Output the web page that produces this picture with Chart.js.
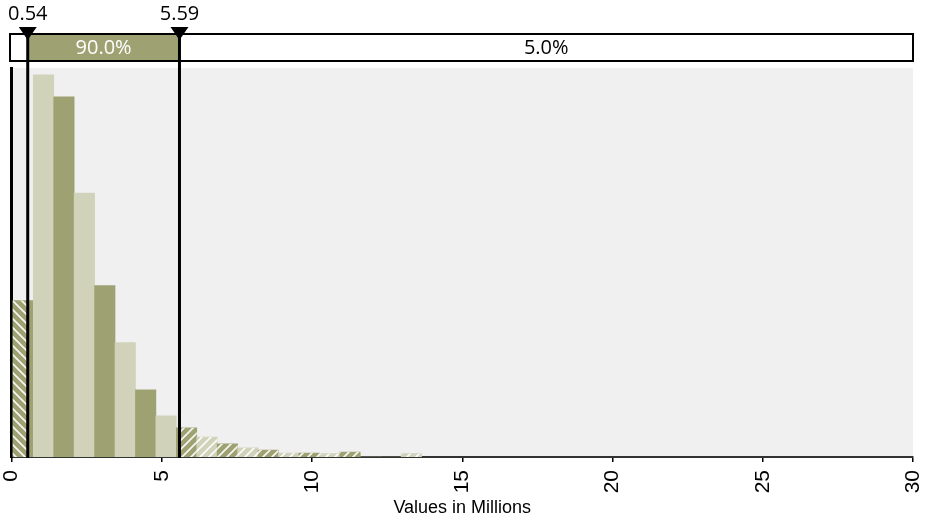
<!DOCTYPE html>
<html>
<head>
<meta charset="utf-8">
<script src="https://cdn.jsdelivr.net/npm/chart.js@4/dist/chart.umd.min.js"></script>
<style>
  html, body { margin: 0; padding: 0; background: #fff; }
  #wrap { width: 931px; height: 521px; }
</style>
</head>
<body>
<div id="wrap"><canvas id="chart"></canvas></div>
<script>
// histogram bins (centres, in millions) and relative heights (%)
var binCenters = [0.385, 1.065, 1.745, 2.425, 3.105, 3.785, 4.465, 5.145, 5.825, 6.505,
                  7.185, 7.865, 8.545, 9.225, 9.905, 10.585, 11.265, 11.945, 12.625, 13.305];
var binHeights = [9.45, 23.09, 21.76, 15.94, 10.36, 6.91, 4.06, 2.48, 1.76, 1.21,
                  0.79, 0.55, 0.42, 0.24, 0.24, 0.20, 0.30, 0, 0, 0.20];
var xTicks = [0, 5, 10, 15, 20, 25, 30];
var cutoffs = [0.54, 5.59];
var cutoffLabels = ['0.54', '5.59'];
var bandLabels = ['5.0%', '90.0%', '5.0%'];
var axisTitle = 'Values in Millions';

(function () {
  var DARK = '#9ea272';
  var LIGHT = '#d0d2ba';
  var canvas = document.getElementById('chart');
  var ctx0 = canvas.getContext('2d');

  function makeHatch_(dir) {
    var s = 9;
    var c = document.createElement('canvas');
    c.width = s; c.height = s;
    var g = c.getContext('2d');
    g.strokeStyle = 'rgba(255,255,255,0.9)';
    g.lineWidth = 1.7;
    g.beginPath();
    if (dir === '/') {
      g.moveTo(-2, s + 2); g.lineTo(s + 2, -2);
      g.moveTo(-2, 2); g.lineTo(2, -2);
      g.moveTo(s - 2, s + 2); g.lineTo(s + 2, s - 2);
    } else {
      g.moveTo(-2, -2); g.lineTo(s + 2, s + 2);
      g.moveTo(-2, s - 2); g.lineTo(2, s + 2);
      g.moveTo(s - 2, -2); g.lineTo(s + 2, 2);
    }
    g.stroke();
    return ctx0.createPattern(c, 'repeat');
  }

  var hatchLeft = makeHatch_('\\');
  var hatchRight = makeHatch_('/');

  var backgroundPlugin = {
    id: 'plotBg',
    beforeDraw: function (chart) {
      var a = chart.chartArea;
      chart.ctx.save();
      chart.ctx.fillStyle = '#f0f0f0';
      chart.ctx.fillRect(a.left, a.top, a.right - a.left, a.bottom - a.top);
      chart.ctx.restore();
    }
  };

  // white stripes on the parts of the bars outside the cutoffs
  var hatchPlugin = {
    id: 'tailHatch',
    afterDatasetsDraw: function (chart) {
      var ctx = chart.ctx, a = chart.chartArea, xs = chart.scales.x;
      var lo = xs.getPixelForValue(cutoffs[0]);
      var hi = xs.getPixelForValue(cutoffs[1]);
      var bars = chart.getDatasetMeta(0).data;
      [[a.left, lo, hatchLeft], [hi, a.right, hatchRight]].forEach(function (zone) {
        ctx.save();
        ctx.beginPath();
        ctx.rect(zone[0], a.top, zone[1] - zone[0], a.bottom - a.top);
        ctx.clip();
        ctx.fillStyle = zone[2];
        bars.forEach(function (bar) {
          var p = bar.getProps(['x', 'y', 'base', 'width'], true);
          ctx.fillRect(p.x - p.width / 2, p.y, p.width, p.base - p.y);
        });
        ctx.restore();
      });
    }
  };

  var rangePlugin = {
    id: 'rangeBar',
    afterDraw: function (chart) {
      var ctx = chart.ctx, a = chart.chartArea, xs = chart.scales.x;
      var left = xs.getPixelForValue(xs.min) - 1.5;
      var right = xs.getPixelForValue(xs.max);
      var lo = xs.getPixelForValue(cutoffs[0]);
      var hi = xs.getPixelForValue(cutoffs[1]);
      var top = a.top - 34;
      var h = 27;
      ctx.save();
      ctx.fillStyle = '#ffffff';
      ctx.fillRect(left, top, right - left, h);
      ctx.fillStyle = DARK;
      ctx.fillRect(lo, top, hi - lo, h);
      ctx.lineWidth = 2;
      ctx.strokeStyle = '#000';
      ctx.strokeRect(left, top, right - left, h);

      ctx.font = '20px "Open Sans"';
      ctx.textAlign = 'center';
      ctx.textBaseline = 'middle';
      var segs = [[left, lo, '#000'], [lo, hi, '#fff'], [hi, right, '#000']];
      segs.forEach(function (s, i) {
        var w = ctx.measureText(bandLabels[i]).width;
        if (w + 6 < s[1] - s[0]) {
          ctx.fillStyle = s[2];
          ctx.fillText(bandLabels[i], (s[0] + s[1]) / 2, top + h / 2 + 1);
        }
      });

      // cutoff lines, markers and values
      [lo, hi].forEach(function (px, i) {
        ctx.strokeStyle = '#000';
        ctx.lineWidth = 3;
        ctx.beginPath();
        ctx.moveTo(px, top);
        ctx.lineTo(px, a.bottom + 1);
        ctx.stroke();
        ctx.fillStyle = '#000';
        ctx.beginPath();
        ctx.moveTo(px - 9, top - 7);
        ctx.lineTo(px + 9, top - 7);
        ctx.lineTo(px, top + 6);
        ctx.closePath();
        ctx.fill();
        ctx.font = '20px "Open Sans"';
        ctx.textBaseline = 'alphabetic';
        ctx.fillText(cutoffLabels[i], px, top - 14);
      });
      ctx.restore();
    }
  };

  new Chart(canvas, {
    type: 'bar',
    data: {
      datasets: [{
        data: binCenters.map(function (x, i) { return { x: x, y: binHeights[i] }; }),
        backgroundColor: binCenters.map(function (x, i) { return i % 2 === 0 ? DARK : LIGHT; }),
        borderWidth: 0,
        barPercentage: 1,
        categoryPercentage: 1
      }]
    },
    options: {
      responsive: true,
      maintainAspectRatio: false,
      animation: false,
      layout: { padding: { top: 68, left: 11.5, right: 18, bottom: 0 } },
      plugins: { legend: { display: false }, tooltip: { enabled: false } },
      scales: {
        x: {
          type: 'linear',
          offset: false,
          min: xTicks[0],
          max: xTicks[xTicks.length - 1],
          afterBuildTicks: function (scale) {
            scale.ticks = xTicks.map(function (v) { return { value: v }; });
          },
          afterFit: function (scale) {
            scale.height = 64;
            scale.paddingLeft = 0;
            scale.paddingRight = 0;
          },
          grid: { display: true, offset: false, drawOnChartArea: false, tickLength: 5, color: '#000', lineWidth: 1.5 },
          border: { display: true, color: '#333', width: 2 },
          ticks: {
            minRotation: 90, maxRotation: 90, padding: 8,
            color: '#000',
            font: { family: '"Liberation Sans", Arial, sans-serif', size: 21 }
          },
          title: {
            display: true, text: axisTitle, color: '#000',
            font: { family: '"Liberation Sans", Arial, sans-serif', size: 18 },
            padding: { top: 0, bottom: 2 }
          }
        },
        y: {
          min: 0,
          max: 23.5,
          afterFit: function (scale) { scale.width = 0; },
          grid: { display: false },
          border: { display: true, color: '#000', width: 3 },
          ticks: { display: false }
        }
      }
    },
    plugins: [backgroundPlugin, hatchPlugin, rangePlugin]
  });
})();
</script>
</body>
</html>
